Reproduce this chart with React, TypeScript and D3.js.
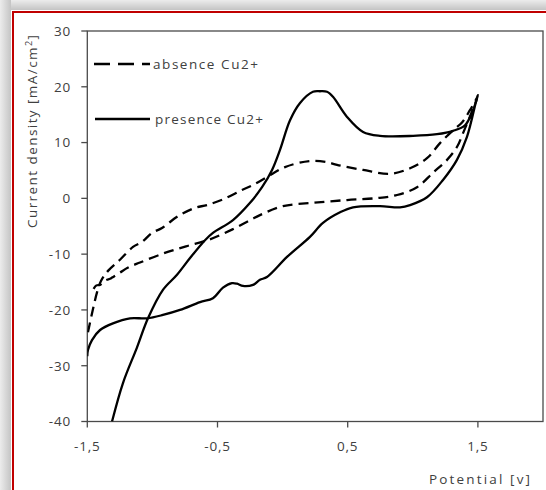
import React from 'react';
import * as d3 from 'd3';

const xTicks = [-1.5, -0.5, 0.5, 1.5];
const xTickLabels = ['-1,5', '-0,5', '0,5', '1,5'];
const yTicks = [30, 20, 10, 0, -10, -20, -30, -40];
const yTickLabels = ['30', '20', '10', '0', '-10', '-20', '-30', '-40'];

const seriesNames = ['absence Cu2+', 'presence Cu2+'];

// presence Cu2+ (solid): potential [V] and current density [mA/cm2]
const presenceV = [
  -1.31, -1.226, -1.118, -1.034, -0.919, -0.811, -0.711, -0.596, -0.535, -0.381, -0.25, -0.158, -0.081,
  -0.02, 0.057, 0.134, 0.233, 0.287, 0.341, 0.387, 0.495, 0.618, 0.748, 1.002, 1.186, 1.309, 1.401, 1.462,
  1.501, 1.494, 1.416, 1.339, 1.232, 1.109, 0.979, 0.902, 0.748, 0.541, 0.441, 0.31, 0.21, 0.034, -0.12,
  -0.174, -0.227, -0.304, -0.35, -0.389, -0.458, -0.535, -0.634, -0.788, -0.919, -1.041, -1.172, -1.303,
  -1.402, -1.464, -1.495, -1.5,
];
const presenceJ = [
  -40, -33.1, -26.7, -21.5, -16.4, -13.7, -10.7, -7.5, -6.2, -3.9, -0.8, 2.0, 5.1,
  8.7, 14.0, 17.1, 19.1, 19.2, 19.1, 18.2, 14.6, 11.9, 11.2, 11.2, 11.5, 12.1, 13.1, 15.8,
  18.5, 18.1, 11.0, 6.9, 3.3, 0.2, -1.2, -1.6, -1.4, -1.6, -2.5, -4.4, -6.9, -10.5, -14.1,
  -14.6, -15.5, -15.7, -15.3, -15.2, -16.0, -17.9, -18.6, -20.0, -20.9, -21.5, -21.5, -22.4,
  -23.6, -25.4, -27.2, -28.3,
];

// absence Cu2+ (dashed)
const absenceV = [
  -1.495, -1.472, -1.449, -1.425, -1.395, -1.341, -1.249, -1.149, -1.08, -1.003, -0.926, -0.803, -0.673,
  -0.581, -0.45, -0.312, -0.227, -0.12, 0.018, 0.21, 0.341, 0.418, 0.618, 0.825, 0.979, 1.109, 1.209,
  1.309, 1.378, 1.439, 1.494, 1.386, 1.339, 1.263, 1.155, 1.032, 0.879, 0.725, 0.495, 0.233, 0.003,
  -0.174, -0.25, -0.389, -0.565, -0.742, -0.919, -1.095, -1.187, -1.249, -1.31, -1.325, -1.36, -1.402,
  -1.43, -1.456,
];
const absenceJ = [
  -24.0, -21.5, -19.1, -16.8, -14.8, -13.0, -11.0, -8.7, -7.8, -6.2, -5.3, -3.2, -1.7,
  -1.2, -0.1, 1.5, 2.4, 3.8, 5.6, 6.7, 6.5, 6.0, 5.1, 4.4, 5.4, 7.2, 9.9,
  12.2, 13.6, 15.8, 18.0, 11.7, 9.2, 6.9, 4.6, 2.0, 0.6, 0.05, -0.3, -0.8, -1.4,
  -3.0, -3.9, -5.6, -7.4, -8.6, -9.9, -11.5, -12.4, -13.3, -14.2, -14.4, -14.7, -15.5,
  -15.6, -16.4,
];

const W = 546;
const H = 490;
const left = 87.3;
const right = 543;
const top = 31;
const bottom = 421.5;

const TEXT = '#404040';
const FONT = "'Open Sans', 'DejaVu Sans', sans-serif";

export default function App() {
  const x = d3.scaleLinear().domain([-1.5, 2]).range([left, right]);
  const y = d3.scaleLinear().domain([-40, 30]).range([bottom, top]);
  const line = d3
    .line<[number, number]>()
    .x((d) => x(d[0]))
    .y((d) => y(d[1]))
    .curve(d3.curveCatmullRom.alpha(0.5));
  const presence: [number, number][] = presenceV.map((v, i) => [v, presenceJ[i]]);
  const absence: [number, number][] = absenceV.map((v, i) => [v, absenceJ[i]]);

  return (
    <svg
      width={W}
      height={H}
      style={{ position: 'absolute', left: 0, top: 0, background: '#fff' }}
      fontFamily={FONT}
    >
      <defs>
        <linearGradient id="shL" x1="0" x2="1" y1="0" y2="0">
          <stop offset="0" stopColor="#ececec" />
          <stop offset="1" stopColor="#c4c4c4" />
        </linearGradient>
        <linearGradient id="shT" x1="0" x2="0" y1="0" y2="1">
          <stop offset="0" stopColor="#ececec" />
          <stop offset="1" stopColor="#c4c4c4" />
        </linearGradient>
        <clipPath id="plotClip">
          <rect x={left} y={top} width={right - left} height={bottom - top} />
        </clipPath>
      </defs>
      <rect x={0} y={0} width={W} height={H} fill="#fff" />
      <rect x={0} y={0} width={W} height={10} fill="url(#shT)" />
      <rect x={0} y={0} width={11} height={H} fill="url(#shL)" />
      <rect x={12} y={11} width={W - 12} height={2} fill="#c00000" />
      <rect x={12} y={11} width={2} height={H - 11} fill="#c00000" />

      {/* plot box */}
      <rect x={left} y={top} width={right - left} height={bottom - top} fill="none" stroke="#4a4a4a" strokeWidth={1.3} />

      {/* y ticks */}
      {yTicks.map((t, i) => (
        <g key={'y' + t}>
          <line x1={left - 6} x2={left} y1={y(t)} y2={y(t)} stroke="#4a4a4a" strokeWidth={1.3} />
          <text x={71} y={y(t)} dy="0.36em" textAnchor="end" fontSize={13.5} fill={TEXT} letterSpacing={0.8}>
            {yTickLabels[i]}
          </text>
        </g>
      ))}
      {/* x ticks */}
      {xTicks.map((t, i) => (
        <g key={'x' + t}>
          <line x1={x(t)} x2={x(t)} y1={bottom} y2={bottom + 6} stroke="#4a4a4a" strokeWidth={1.3} />
          <text x={x(t)} y={446} dy="0.36em" textAnchor="middle" fontSize={13.5} fill={TEXT} letterSpacing={0.8}>
            {xTickLabels[i]}
          </text>
        </g>
      ))}

      <text
        transform="translate(37,131.5) rotate(-90)"
        textAnchor="middle"
        fontSize={13.5}
        fill={TEXT}
        textLength={193}
        lengthAdjust="spacing"
      >
        Current density [mA/cm<tspan dy="-5" fontSize={9}>2</tspan><tspan dy="5">]</tspan>
      </text>
      <text x={530} y={479} dy="0.36em" textAnchor="end" fontSize={13.5} fill={TEXT} textLength={101} lengthAdjust="spacing">
        Potential [v]
      </text>

      <g clipPath="url(#plotClip)">
        <path d={line(absence) || ''} fill="none" stroke="#000" strokeWidth={2.3} strokeDasharray="10,6" strokeLinejoin="round" />
        <path d={line(presence) || ''} fill="none" stroke="#000" strokeWidth={2.3} strokeLinejoin="round" />
      </g>

      {/* legend */}
      <line x1={94} x2={150} y1={64} y2={64} stroke="#000" strokeWidth={2.3} strokeDasharray="16,8" />
      <text x={153} y={64} dy="0.36em" fontSize={13.5} fill={TEXT} textLength={105} lengthAdjust="spacing">
        {seriesNames[0]}
      </text>
      <line x1={95} x2={150} y1={119} y2={119} stroke="#000" strokeWidth={2.3} />
      <text x={155} y={119} dy="0.36em" fontSize={13.5} fill={TEXT} textLength={108} lengthAdjust="spacing">
        {seriesNames[1]}
      </text>
    </svg>
  );
}
